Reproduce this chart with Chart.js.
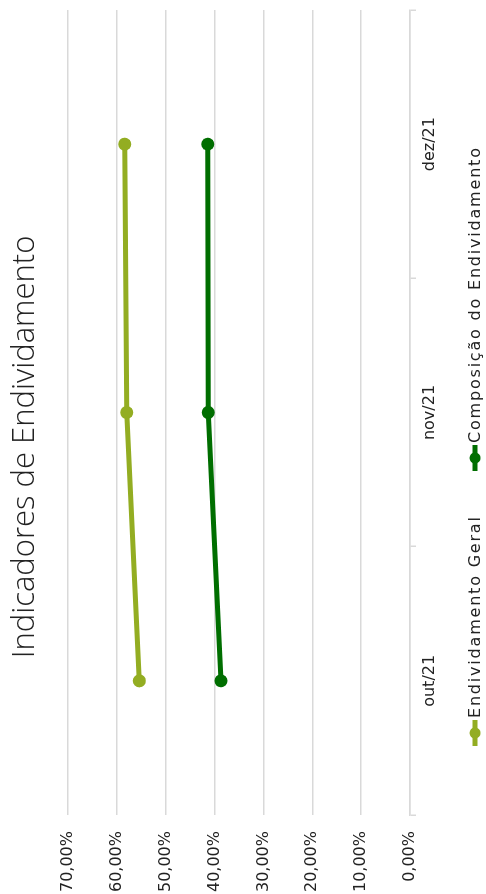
<!DOCTYPE html>
<html>
<head>
<meta charset="utf-8">
<title>Indicadores de Endividamento</title>
<script src="https://cdn.jsdelivr.net/npm/chart.js@4"></script>
<style>
    html, body { margin: 0; padding: 0; background: #fff; overflow: hidden; }
    #wrap {
        position: absolute; left: 0; top: 0;
        width: 894px; height: 486px;
        transform-origin: 0 0;
        transform: translateY(894px) rotate(-90deg);
    }
</style>
</head>
<body>
<div id="wrap"><canvas id="chart" width="894" height="486"></canvas></div>
<script>
// Données
const categorias = ['out/21', 'nov/21', 'dez/21'];
const endividamentoGeral = [55.4, 58.0, 58.4];
const composicaoEndividamento = [38.7, 41.3, 41.4];
const ticksY = [0, 10, 20, 30, 40, 50, 60, 70];

const titulo = 'Indicadores de Endividamento';
const corGeral = '#93ad22';
const corComposicao = '#006e00';
const corGrade = '#d9d9d9';
const fonte = "'DejaVu Sans', sans-serif";

function formatPct(v) {
    return v.toFixed(2).replace('.', ',') + '%';
}

// Titre + légende dessinés à la main (marqueur ligne + point)
const decorPlugin = {
    id: 'decor',
    afterDraw(chart) {
        const ctx = chart.ctx;
        ctx.save();
        ctx.fillStyle = '#222';
        ctx.font = "300 31px 'Open Sans', sans-serif";
        ctx.textAlign = 'center';
        ctx.textBaseline = 'middle';
        ctx.fillText(titulo, chart.width / 2, 25);

        ctx.font = '16px ' + fonte;
        ctx.letterSpacing = '1.8px';
        ctx.textAlign = 'left';
        const y = 475;
        const posX = [148, 423];
        chart.data.datasets.forEach((ds, i) => {
            const x = posX[i];
            ctx.strokeStyle = ds.borderColor;
            ctx.lineWidth = 5;
            ctx.beginPath();
            ctx.moveTo(x, y);
            ctx.lineTo(x + 26, y);
            ctx.stroke();
            ctx.fillStyle = ds.borderColor;
            ctx.beginPath();
            ctx.arc(x + 13, y, 5.5, 0, Math.PI * 2);
            ctx.fill();
            ctx.fillStyle = '#222';
            ctx.fillText(ds.label, x + 28, y + 1);
        });
        ctx.restore();
    }
};

const ctx = document.getElementById('chart').getContext('2d');
new Chart(ctx, {
    type: 'line',
    data: {
        labels: categorias,
        datasets: [{
            label: 'Endividamento Geral',
            data: endividamentoGeral,
            borderColor: corGeral,
            backgroundColor: corGeral,
            borderWidth: 5,
            pointRadius: 6.5,
            pointBorderWidth: 0,
            pointHoverRadius: 6.5,
            tension: 0
        }, {
            label: 'Composição do Endividamento',
            data: composicaoEndividamento,
            borderColor: corComposicao,
            backgroundColor: corComposicao,
            borderWidth: 5,
            pointRadius: 6.5,
            pointBorderWidth: 0,
            pointHoverRadius: 6.5,
            tension: 0
        }]
    },
    options: {
        responsive: false,
        animation: false,
        devicePixelRatio: 1,
        layout: { padding: { top: 68, right: 10, left: 0, bottom: 0 } },
        scales: {
            x: {
                offset: true,
                grid: {
                    offset: true,
                    drawOnChartArea: false,
                    color: corGrade,
                    tickLength: 6,
                    lineWidth: 1.5
                },
                border: { color: corGrade, width: 1.5 },
                ticks: {
                    color: '#222',
                    font: { family: fonte, size: 16 },
                    padding: 4,
                    maxRotation: 0
                },
                afterFit(scale) { scale.height = 76; }
            },
            y: {
                min: 0,
                max: 70,
                afterBuildTicks(scale) {
                    scale.ticks = ticksY.map(v => ({ value: v }));
                },
                grid: { color: corGrade, lineWidth: 1.5, drawTicks: false },
                border: { display: false },
                ticks: {
                    color: '#222',
                    font: { family: fonte, size: 16 },
                    padding: 16,
                    callback: v => formatPct(v)
                },
                afterFit(scale) { scale.width = 79; }
            }
        },
        plugins: {
            legend: { display: false },
            title: { display: false },
            tooltip: { enabled: false }
        }
    },
    plugins: [decorPlugin]
});
</script>
</body>
</html>
